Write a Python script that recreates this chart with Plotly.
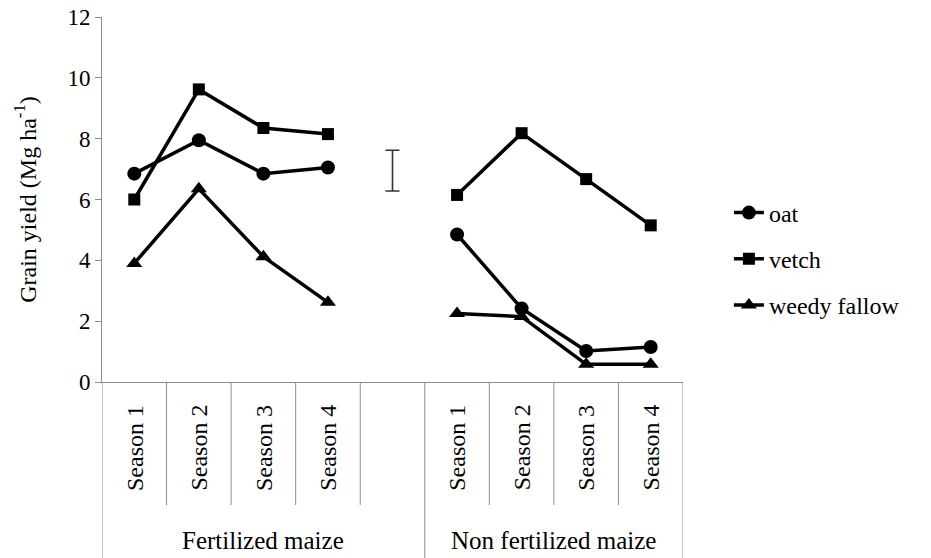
import plotly.graph_objects as go

# category axis: two groups of four seasons with a blank slot between them
groups = ["Fertilized maize", "Non fertilized maize"]
seasons = ["Season 1", "Season 2", "Season 3", "Season 4"]
categories = seasons + [""] + seasons

oat = [6.85, 7.95, 6.85, 7.05, None, 4.85, 2.42, 1.02, 1.15]
vetch = [6.0, 9.62, 8.35, 8.15, None, 6.15, 8.18, 6.67, 5.15]
weedy_fallow = [3.9, 6.35, 4.12, 2.62, None, 2.25, 2.15, 0.58, 0.58]

lsd_center = 6.95
lsd_half = 0.67
lsd_slot = 4

FONT = "Liberation Serif"
AXIS_GREY = "#8c8c8c"

x_idx = list(range(len(categories)))

fig = go.Figure()
series = [
    ("oat", oat, "circle", 14),
    ("vetch", vetch, "square", 12),
    ("weedy fallow", weedy_fallow, "triangle-up", 14),
]
for i, (name, values, symbol, size) in enumerate(series):
    fig.add_trace(
        go.Scatter(
            x=x_idx,
            y=values,
            mode="lines+markers",
            name=name,
            legendgroup=f"g{i}",
            connectgaps=False,
            line={"color": "black", "width": 3.5},
            marker={"symbol": symbol, "size": size, "color": "black"},
        )
    )

# LSD bar in the blank slot
fig.add_trace(
    go.Scatter(
        x=[lsd_slot],
        y=[lsd_center],
        mode="markers",
        marker={"size": 1, "color": "rgba(0,0,0,0)"},
        error_y={"type": "data", "array": [lsd_half], "color": "#333333", "thickness": 1.6, "width": 7},
        showlegend=False,
        hoverinfo="skip",
    )
)

# season labels, rotated, and the group labels beneath
for i, label in enumerate(categories):
    if label:
        fig.add_annotation(
            x=i, y=-0.18, xref="x", yref="paper", text=label, textangle=-90,
            showarrow=False, font={"family": FONT, "size": 24, "color": "black"},
            xanchor="center", yanchor="middle",
        )
fig.add_annotation(
    x=2.0, y=-0.435, xref="x", yref="paper", text=groups[0], showarrow=False,
    font={"family": FONT, "size": 25, "color": "black"}, xanchor="center", yanchor="middle",
)
fig.add_annotation(
    x=6.5, y=-0.435, xref="x", yref="paper", text=groups[1], showarrow=False,
    font={"family": FONT, "size": 25, "color": "black"}, xanchor="center", yanchor="middle",
)

# divider lines of the category axis
for b in range(len(categories) + 1):
    pos = b - 0.5
    long_line = b in (0, 5, len(categories))
    fig.add_shape(
        type="line", xref="x", yref="paper", x0=pos, x1=pos, y0=0,
        y1=-0.51 if long_line else -0.337,
        line={"color": AXIS_GREY, "width": 1},
    )

# the page body has an 8px margin, so the figure is placed 8px lower and right
fig.update_layout(
    width=931,
    height=558,
    margin={"l": 94, "r": 256, "t": 9, "b": 184},
    plot_bgcolor="white",
    paper_bgcolor="white",
    font={"family": FONT, "size": 22, "color": "black"},
    showlegend=True,
    legend={
        "x": 1.079, "y": 0.337, "xanchor": "left", "yanchor": "middle",
        "font": {"family": FONT, "size": 24, "color": "black"},
        "tracegroupgap": 12, "bgcolor": "rgba(0,0,0,0)",
    },
)
fig.update_xaxes(
    range=[-0.5, len(categories) - 0.5], automargin=False,
    showticklabels=False, showgrid=False, zeroline=False,
    showline=True, linecolor=AXIS_GREY, linewidth=1, ticks="",
)
fig.update_yaxes(
    range=[0, 12], dtick=2, automargin=False, showgrid=False, zeroline=False,
    showline=True, linecolor=AXIS_GREY, linewidth=1,
    ticks="outside", ticklen=6, tickcolor=AXIS_GREY, ticklabeloverflow="allow",
    tickfont={"family": FONT, "size": 23, "color": "black"},
    title={"text": "Grain yield (Mg ha<sup>-1</sup>)", "font": {"family": FONT, "size": 24}, "standoff": 24},
)

fig.write_html("out.html")
